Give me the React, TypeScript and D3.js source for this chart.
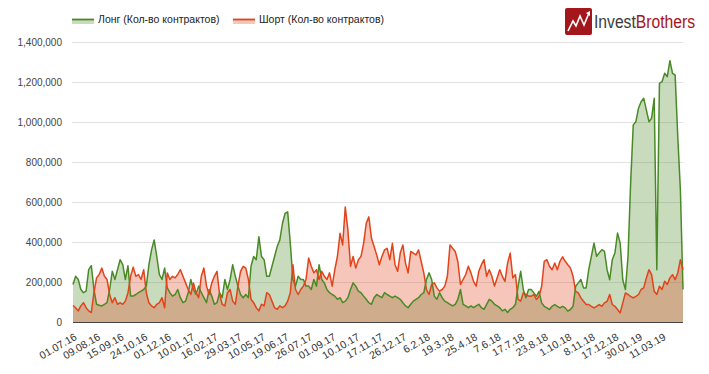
import React, { useEffect, useRef } from 'react'
import * as d3 from 'd3'

// Open interest, thousands of contracts, one point per ~3 trading days (01.07.16 – 04.2019)
const longValues = [
  190, 231, 215, 165, 149, 157, 264, 284, 165, 91, 86, 83, 91, 99, 165, 256, 215, 264, 314, 289,
  215, 284, 132, 132, 140, 149, 157, 165, 182, 289, 363, 413, 330, 239, 215, 272, 173, 149, 132, 140,
  165, 124, 99, 107, 149, 215, 165, 140, 182, 149, 124, 99, 165, 132, 91, 99, 149, 124, 215, 165,
  215, 289, 231, 182, 140, 124, 140, 124, 281, 330, 314, 429, 330, 314, 231, 231, 281, 330, 380, 413,
  495, 545, 553, 396, 215, 182, 231, 215, 215, 182, 182, 165, 215, 182, 289, 215, 198, 165, 149, 140,
  132, 116, 124, 99, 107, 124, 165, 198, 182, 157, 149, 132, 116, 99, 91, 124, 140, 132, 124, 149,
  140, 132, 124, 132, 124, 116, 99, 83, 74, 91, 107, 116, 124, 140, 149, 215, 248, 215, 132, 116,
  149, 124, 107, 99, 91, 83, 91, 116, 165, 91, 83, 74, 83, 74, 83, 91, 74, 66, 91, 116,
  107, 91, 83, 74, 58, 66, 50, 66, 74, 91, 182, 256, 165, 124, 165, 165, 148, 131, 156, 98,
  81, 73, 65, 81, 90, 81, 73, 81, 73, 57, 65, 81, 181, 198, 215, 173, 173, 264, 331, 397,
  331, 348, 364, 356, 264, 214, 314, 348, 447, 397, 214, 165, 330, 697, 988, 1004, 1071, 1104, 1121, 1063,
  1004, 1021, 1121, 264, 1196, 1204, 1246, 1229, 1309, 1246, 1237, 930, 664, 165,
]

const shortValues = [
  85, 74, 58, 83, 99, 74, 58, 50, 149, 223, 240, 272, 231, 215, 140, 99, 124, 91, 99, 91,
  107, 149, 231, 277, 231, 240, 215, 264, 149, 99, 83, 74, 91, 99, 124, 74, 248, 215, 231, 223,
  240, 264, 231, 198, 165, 140, 198, 149, 124, 231, 272, 182, 140, 198, 231, 256, 140, 91, 83, 149,
  165, 107, 91, 182, 256, 281, 272, 215, 116, 99, 74, 58, 91, 83, 149, 140, 107, 74, 66, 83,
  74, 83, 107, 149, 289, 165, 140, 165, 182, 215, 322, 281, 248, 264, 215, 256, 231, 215, 248, 182,
  264, 330, 446, 388, 578, 462, 281, 330, 272, 314, 330, 396, 495, 528, 421, 380, 338, 289, 330, 363,
  371, 314, 396, 289, 256, 347, 388, 297, 248, 355, 347, 338, 363, 305, 248, 165, 140, 190, 198, 173,
  157, 165, 182, 231, 388, 371, 355, 305, 190, 215, 240, 281, 248, 206, 182, 256, 289, 314, 231, 264,
  231, 182, 223, 264, 231, 206, 297, 347, 223, 240, 116, 107, 149, 140, 132, 131, 140, 115, 131, 181,
  306, 314, 281, 264, 298, 264, 306, 328, 306, 289, 273, 231, 156, 148, 123, 106, 90, 90, 81, 73,
  81, 90, 81, 98, 106, 140, 90, 81, 65, 48, 98, 148, 140, 131, 123, 131, 140, 165, 173, 223,
  264, 239, 156, 140, 181, 165, 206, 190, 223, 239, 214, 248, 314, 264,
]

const xTickLabels = [
  '01.07.16', '09.08.16', '15.09.16', '24.10.16', '01.12.16', '10.01.17', '16.02.17', '29.03.17',
  '10.05.17', '19.06.17', '26.07.17', '01.09.17', '10.10.17', '17.11.17', '26.12.17', '6.2.18',
  '19.3.18', '25.4.18', '7.6.18', '17.7.18', '23.8.18', '1.10.18', '8.11.18', '17.12.18',
  '30.01.19', '11.03.19',
]
const TICK_STEP = 9 // points between date labels

const yTicks = [0, 200, 400, 600, 800, 1000, 1200, 1400]

const seriesNames = ['Лонг (Кол-во контрактов)', 'Шорт (Кол-во контрактов)']
const seriesColors = ['#4a8a26', '#e2431a']

const WIDTH = 709
const HEIGHT = 374
const FONT = 'Arial, "Liberation Sans", sans-serif'

export default function App() {
  const svgRef = useRef<SVGSVGElement>(null)

  useEffect(() => {
    if (!svgRef.current) return
    const svg = d3.select(svgRef.current)
    svg.selectAll('*').remove()

    const x = d3.scaleLinear().domain([0, longValues.length - 1]).range([73, 683])
    const y = d3.scaleLinear().domain([0, 1400]).range([322.5, 42.5])

    // gridlines
    svg
      .append('g')
      .selectAll('line')
      .data(yTicks.slice(1))
      .join('line')
      .attr('x1', 72)
      .attr('x2', 683)
      .attr('y1', (d) => y(d))
      .attr('y2', (d) => y(d))
      .attr('stroke', '#e2e2e2')
      .attr('stroke-width', 1)

    // y labels
    svg
      .append('g')
      .selectAll('text')
      .data(yTicks)
      .join('text')
      .attr('x', 62)
      .attr('y', (d) => y(d))
      .attr('dy', '0.35em')
      .attr('text-anchor', 'end')
      .attr('font-family', FONT)
      .attr('font-size', 10)
      .attr('fill', '#444')
      .text((d) => d3.format(',')(d * 1000))

    const area = d3
      .area<number>()
      .x((_, i) => x(i))
      .y0(y(0))
      .y1((d) => y(d))

    const line = d3
      .line<number>()
      .x((_, i) => x(i))
      .y((d) => y(d))

    const series = [longValues, shortValues]

    // filled areas first, lines on top
    series.forEach((vals, s) => {
      svg
        .append('path')
        .attr('d', area(vals))
        .attr('fill', seriesColors[s])
        .attr('fill-opacity', 0.3)
    })
    series.forEach((vals, s) => {
      svg
        .append('path')
        .attr('d', line(vals))
        .attr('fill', 'none')
        .attr('stroke', seriesColors[s])
        .attr('stroke-width', 1.5)
        .attr('stroke-linejoin', 'round')
    })

    // baseline
    svg
      .append('line')
      .attr('x1', 73)
      .attr('x2', 683)
      .attr('y1', y(0))
      .attr('y2', y(0))
      .attr('stroke', '#444')
      .attr('stroke-width', 1.2)

    // date labels, slanted
    svg
      .append('g')
      .selectAll('text')
      .data(xTickLabels)
      .join('text')
      .attr('transform', (_, k) => `translate(${x(k * TICK_STEP) + 4.5},339) rotate(-30)`)
      .attr('text-anchor', 'end')
      .attr('font-family', FONT)
      .attr('font-size', 10.5)
      .attr('fill', '#333')
      .text((d) => d)

    // legend
    const legendX = [72, 233]
    seriesNames.forEach((name, s) => {
      const g = svg.append('g').attr('transform', `translate(${legendX[s]},0)`)
      g.append('rect')
        .attr('x', 0)
        .attr('y', 19)
        .attr('width', 22)
        .attr('height', 5)
        .attr('fill', seriesColors[s])
        .attr('fill-opacity', 0.3)
      g.append('line')
        .attr('x1', 0)
        .attr('x2', 22)
        .attr('y1', 19.5)
        .attr('y2', 19.5)
        .attr('stroke', seriesColors[s])
        .attr('stroke-width', 1.8)
      g.append('text')
        .attr('x', 26)
        .attr('y', 23)
        .attr('font-family', FONT)
        .attr('font-size', 10.5)
        .attr('fill', '#222')
        .text(name)
    })

    // logo
    const logo = svg.append('g').attr('transform', 'translate(565,8)')
    logo.append('rect').attr('width', 27).attr('height', 27).attr('rx', 2).attr('fill', '#a3171c')
    logo
      .append('polyline')
      .attr('points', '3,23 8,13 11,18 15,8 19,17 24,5')
      .attr('fill', 'none')
      .attr('stroke', '#fff')
      .attr('stroke-width', 1.6)
      .attr('stroke-linejoin', 'miter')
    logo.append('path').attr('d', 'M21,5 L25,3 L25,8 Z').attr('fill', '#fff')

    // two-colour brand name as one text: hard colour stop between "Invest" and "Brothers"
    const grad = svg
      .append('defs')
      .append('linearGradient')
      .attr('id', 'brand-fill')
      .attr('gradientUnits', 'userSpaceOnUse')
      .attr('x1', 594)
      .attr('x2', 695)
      .attr('y1', 0)
      .attr('y2', 0)
    const split = (635.5 - 594) / (695 - 594)
    grad.append('stop').attr('offset', split).attr('stop-color', '#3a3a3a')
    grad.append('stop').attr('offset', split).attr('stop-color', '#a3171c')

    svg
      .append('text')
      .attr('x', 594)
      .attr('y', 28)
      .attr('font-family', FONT)
      .attr('font-size', 18)
      .attr('textLength', 101)
      .attr('lengthAdjust', 'spacingAndGlyphs')
      .attr('fill', 'url(#brand-fill)')
      .text('InvestBrothers')
  }, [])

  return (
    <svg
      ref={svgRef}
      width={WIDTH}
      height={HEIGHT}
      style={{ position: 'absolute', left: 0, top: 0, background: '#fff' }}
    />
  )
}
